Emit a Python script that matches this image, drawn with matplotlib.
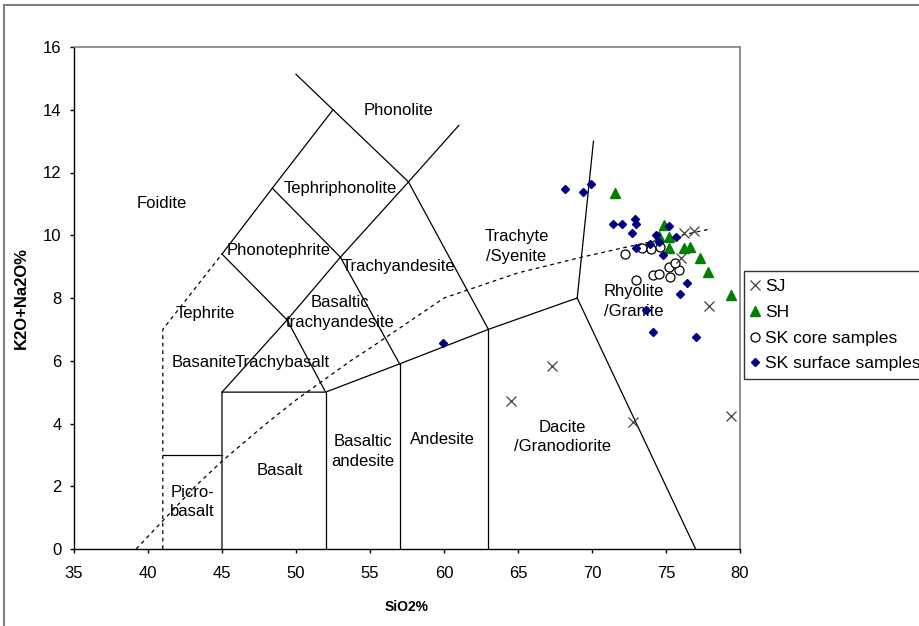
import matplotlib
matplotlib.use("Agg")
import matplotlib.pyplot as plt
from matplotlib.lines import Line2D

plt.rcParams['font.family'] = ['Liberation Sans', 'DejaVu Sans']

# --- TAS field boundaries (SiO2, K2O+Na2O) ---
solid_lines = [
    ([41, 45], [3, 3]),
    ([45, 48.4, 52.5], [9.4, 11.5, 14]),
    ([50, 52.5, 57.6, 63], [15.13, 14, 11.7, 7]),
    ([45, 45, 49.4, 53, 57.6, 61], [0, 5, 7.3, 9.3, 11.7, 13.5]),
    ([45, 52, 57, 63, 69, 70.1], [5, 5, 5.9, 7, 8, 13.0]),
    ([69, 77], [8, 0]),
    ([52, 52], [0, 5]),
    ([57, 57], [0, 5.9]),
    ([63, 63], [0, 7]),
    ([49.4, 52], [7.3, 5]),
    ([53, 57], [9.3, 5.9]),
    ([48.4, 53], [11.5, 9.3]),
    ([45, 49.4], [9.4, 7.3]),
]
dashed_lines = [
    ([41, 41, 45], [0, 7, 9.4]),
]
# alkaline / subalkaline divide
divide_sio2 = [39.2, 40, 43.2, 45, 48, 50, 53.7, 55, 60, 65, 69.3, 72.1, 78]
divide_alk = [0, 0.4, 2, 2.8, 4, 4.75, 6, 6.4, 8, 8.8, 9.3, 9.6, 10.2]

field_names = ["Phonolite", "Foidite", "Tephriphonolite", "Phonotephrite",
               "Trachyandesite", "Tephrite", "Basaltic\ntrachyandesite",
               "Basanite", "Trachybasalt", "Trachyte\n/Syenite",
               "Rhyolite\n/Granite", "Dacite\n/Granodiorite", "Andesite",
               "Basaltic\nandesite", "Basalt", "Picro-\nbasalt"]
field_x = [56.9, 40.9, 53.0, 48.8, 56.9, 43.85, 53.0, 43.8, 49.1, 64.9,
           72.8, 68.0, 59.9, 54.5, 48.9, 43.0]
field_y = [13.98, 11.0, 11.5, 9.5, 9.0, 7.5, 7.55, 5.96, 5.96, 9.65,
           7.9, 3.57, 3.5, 3.1, 2.5, 1.5]

# --- samples ---
sj_sio2 = [64.5, 67.3, 72.8, 79.4, 77.9, 76.0, 76.2, 76.9]
sj_alk = [4.72, 5.83, 4.05, 4.25, 7.74, 9.27, 10.08, 10.12]

sh_sio2 = [71.55, 74.86, 74.55, 75.2, 75.2, 76.2, 76.6, 77.3, 77.86, 79.4]
sh_alk = [11.35, 10.32, 9.98, 9.95, 9.6, 9.6, 9.63, 9.27, 8.82, 8.09]

core_sio2 = [72.2, 73.4, 74.0, 74.6, 73.0, 74.1, 74.5, 75.2, 75.3, 75.9, 75.6]
core_alk = [9.4, 9.6, 9.55, 9.62, 8.57, 8.73, 8.75, 9.0, 8.68, 8.88, 9.1]

surf_sio2 = [68.2, 69.4, 69.9, 71.4, 72.05, 72.9, 73.0, 72.7, 75.2, 74.35,
             75.7, 74.55, 73.9, 73.0, 74.8, 76.4, 75.97, 73.65, 74.1, 77.0,
             59.9]
surf_alk = [11.46, 11.37, 11.62, 10.36, 10.36, 10.51, 10.35, 10.07, 10.28,
            10.02, 9.95, 9.79, 9.73, 9.58, 9.38, 8.47, 8.14, 7.63, 6.93,
            6.76, 6.56]

x_ticks = [35, 40, 45, 50, 55, 60, 65, 70, 75, 80]
y_ticks = [0, 2, 4, 6, 8, 10, 12, 14, 16]

fig = plt.figure(figsize=(9.2, 6.26), dpi=100)
ax = fig.add_axes([74 / 920, 77 / 626, 666 / 920, 502 / 626])

for xs, ys in solid_lines:
    ax.plot(xs, ys, color='black', lw=0.9, zorder=2)
for xs, ys in dashed_lines:
    ax.plot(xs, ys, color='black', lw=0.9, ls=(0, (3, 3)), zorder=2)
ax.plot(divide_sio2, divide_alk, color='black', lw=0.9, ls=(0, (3, 3)), zorder=2)

for name, x, y in zip(field_names, field_x, field_y):
    ax.text(x, y, name, ha='center', va='center', fontsize=12,
            linespacing=1.4, zorder=3)

ax.plot(sj_sio2, sj_alk, ls='none', marker='x', ms=7, mew=0.9,
        color='#404040', label='SJ', zorder=5)
ax.plot(sh_sio2, sh_alk, ls='none', marker='^', ms=7,
        color='#008000', mec='#008000', label='SH', zorder=5)
ax.plot(core_sio2, core_alk, ls='none', marker='o', ms=6.5, mfc='white',
        mec='black', mew=0.9, label='SK core samples', zorder=4)
ax.plot(surf_sio2, surf_alk, ls='none', marker='D', ms=4.3,
        color='#000080', mec='#000080', label='SK surface samples', zorder=6)

ax.set_xlim(35, 80)
ax.set_ylim(0, 16)
ax.set_xticks(x_ticks)
ax.set_yticks(y_ticks)
ax.tick_params(direction='out', length=3, width=1, labelsize=12, pad=6)
ax.tick_params(axis='x', pad=9)
for side in ('left', 'bottom'):
    ax.spines[side].set_color('black')
    ax.spines[side].set_linewidth(1)
for side in ('top', 'right'):
    ax.spines[side].set_color('#808080')
    ax.spines[side].set_linewidth(1.2)

ax.set_xlabel('SiO2%', fontsize=10, fontweight='bold', labelpad=14)
ax.set_ylabel('K2O+Na2O%', fontsize=12, fontweight='bold', labelpad=10)

leg = ax.legend(loc='upper left', bbox_to_anchor=(744 / 920, 1 - 271 / 626),
                bbox_transform=fig.transFigure, fontsize=12.6, frameon=True,
                fancybox=False, edgecolor='black', borderpad=0.45,
                handlelength=0.4, handletextpad=0.35, labelspacing=0.6,
                borderaxespad=0)
leg.get_frame().set_linewidth(1)

# outer chart border
fig.add_artist(Line2D([4 / 920, 4 / 920], [0, 1 - 5 / 626], color='#808080',
                      lw=1.5, transform=fig.transFigure))
fig.add_artist(Line2D([4 / 920, 1], [1 - 5 / 626, 1 - 5 / 626], color='#808080',
                      lw=1.5, transform=fig.transFigure))

fig.savefig('out.png', dpi=100)
